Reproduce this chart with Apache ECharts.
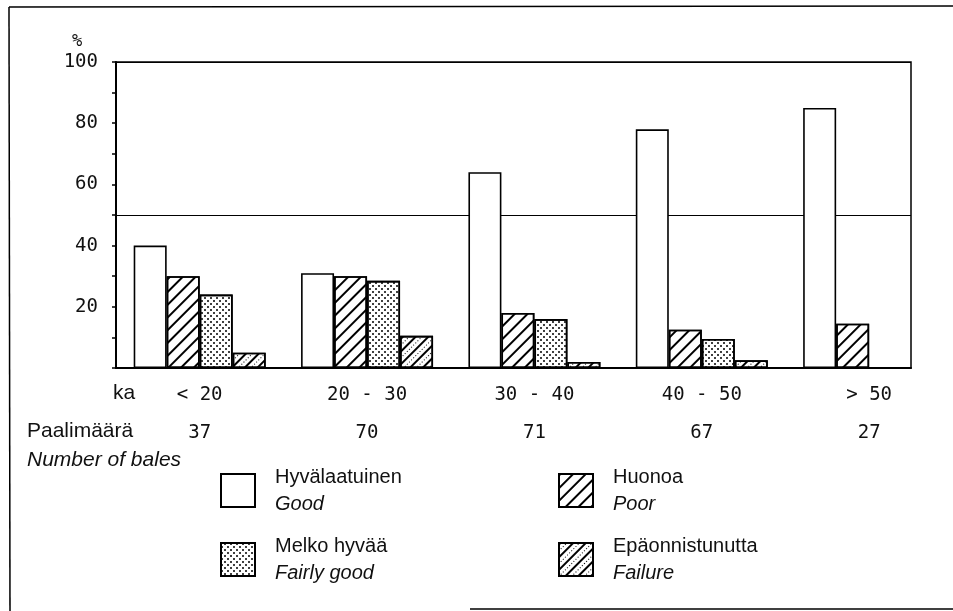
<!DOCTYPE html>
<html>
<head>
<meta charset="utf-8">
<script src="https://cdn.jsdelivr.net/npm/echarts@6/dist/echarts.min.js"></script>
<style>
  html, body { margin: 0; padding: 0; background: #fff; }
  #main { width: 953px; height: 611px; }
</style>
</head>
<body>
<div id="main"></div>
<script>
// luokat (ka) ja paalimäärät
const ranges = ['< 20', '20 - 30', '30 - 40', '40 - 50', '> 50']
const bales = [37, 70, 71, 67, 27]
// prosenttiosuudet
const good = [40, 31, 64, 78, 85]
const poor = [30, 30, 18, 12.5, 14.5]
const fairlyGood = [24, 28.5, 16, 9.5, 0]
const failure = [5, 10.5, 2, 2.5, 0]
const namesFi = ['Hyvälaatuinen', 'Huonoa', 'Melko hyvää', 'Epäonnistunutta']
const namesEn = ['Good', 'Poor', 'Fairly good', 'Failure']
const yTicks = [20, 40, 60, 80, 100]

const mono = 'DejaVu Sans Mono'
const sans = 'Liberation Sans'

const decals = [
  null,
  { symbol: 'rect', symbolSize: 1, dashArrayX: [1, 0], dashArrayY: [1.5, 6.5], rotation: -Math.PI / 4, color: '#000' },
  { symbol: 'circle', symbolSize: 1, dashArrayX: [[2, 4], [0, 3, 2, 1]], dashArrayY: [2, 1], rotation: 0, color: '#000' },
  { symbol: 'rect', symbolSize: 1, dashArrayX: [[1, 0], [1, 2]], dashArrayY: [1.5, 3, 1, 3], rotation: -Math.PI / 4, color: '#000' }
]

let myChart = echarts.init(document.getElementById('main'))

function barSeries(name, values, i) {
  let style = { color: '#fff', borderColor: '#000', borderWidth: 1.6 }
  if (decals[i]) style.decal = decals[i]
  return {
    name: name,
    type: 'bar',
    xAxisIndex: 0,
    yAxisIndex: 0,
    barWidth: 33,
    barGap: '0%',
    z: 3,
    itemStyle: style,
    emphasis: { disabled: true },
    // nollapylväitä ei piirretä
    data: values.map((v, k) => [k + 0.5, v === 0 ? '-' : v])
  }
}

let option = {
  backgroundColor: '#fff',
  animation: false,
  grid: {
    left: 116, right: 42, top: 62, bottom: 243,
    show: true, borderColor: '#000', borderWidth: 1.5
  },
  legend: {
    data: namesFi,
    left: 220,
    top: 467,
    width: 680,
    padding: 0,
    orient: 'horizontal',
    icon: 'rect',
    itemWidth: 34,
    itemHeight: 33,
    itemGap: 22,
    selectedMode: false,
    formatter: (name) => '{a|' + name + '}\n{b|' + namesEn[namesFi.indexOf(name)] + '}',
    textStyle: {
      rich: {
        a: { fontFamily: sans, fontSize: 20, color: '#111', lineHeight: 27, width: 261, padding: [0, 0, 0, 15] },
        b: { fontFamily: sans, fontSize: 20, fontStyle: 'italic', color: '#111', lineHeight: 27, width: 261, padding: [0, 0, 0, 15] }
      }
    }
  },
  xAxis: {
    type: 'value',
    min: 0,
    max: 4.75,
    axisLine: { show: true, lineStyle: { color: '#000', width: 2 } },
    axisTick: { show: false },
    splitLine: { show: false },
    axisLabel: {
      customValues: ranges.map((r, k) => k + 0.5),
      margin: 8,
      formatter: (v) => {
        let k = Math.round(v - 0.5)
        return '{r|' + ranges[k] + '}\n{n|' + bales[k] + '}'
      },
      rich: {
        r: { fontFamily: mono, fontSize: 19, color: '#111', lineHeight: 38 },
        n: { fontFamily: mono, fontSize: 19, color: '#111', lineHeight: 38 }
      }
    }
  },
  yAxis: [
    {
      type: 'value',
      min: 0,
      max: 100,
      interval: 10,
      name: '%',
      nameLocation: 'end',
      nameGap: 12,
      nameTextStyle: { fontFamily: mono, fontSize: 17, color: '#111', align: 'center', padding: [0, 78, 0, 0] },
      axisLine: { show: true, lineStyle: { color: '#000', width: 2 } },
      axisTick: { show: true, length: 4, lineStyle: { color: '#000', width: 1.5 } },
      splitLine: { show: false },
      axisLabel: {
        margin: 18,
        fontFamily: mono,
        fontSize: 19,
        color: '#111',
        formatter: (v) => (yTicks.indexOf(v) >= 0 ? String(v) : '')
      }
    },
    {
      // 50 %:n viiva
      type: 'value',
      min: 0,
      max: 100,
      interval: 50,
      axisLine: { show: false },
      axisTick: { show: false },
      axisLabel: { show: false },
      splitLine: { show: true, lineStyle: { color: '#000', width: 1.2 } }
    }
  ],
  graphic: [
    { type: 'text', left: 113, top: 383, style: { text: 'ka', font: '21px "Liberation Sans"', fill: '#111' } },
    { type: 'text', left: 27, top: 421, style: { text: 'Paalimäärä', font: '21px "Liberation Sans"', fill: '#111' } },
    { type: 'text', left: 27, top: 450, style: { text: 'Number of bales', font: 'italic 21px "Liberation Sans"', fill: '#111' } },
    // kehys
    { type: 'line', shape: { x1: 9, y1: 7, x2: 953, y2: 6 }, style: { stroke: '#000', lineWidth: 1.5 } },
    { type: 'line', shape: { x1: 9, y1: 7, x2: 10, y2: 611 }, style: { stroke: '#000', lineWidth: 1.5 } },
    { type: 'line', shape: { x1: 470, y1: 609, x2: 953, y2: 609 }, style: { stroke: '#000', lineWidth: 1.5 } }
  ],
  series: [
    barSeries(namesFi[0], good, 0),
    barSeries(namesFi[1], poor, 1),
    barSeries(namesFi[2], fairlyGood, 2),
    barSeries(namesFi[3], failure, 3)
  ]
}
myChart.setOption(option)
</script>
</body>
</html>
